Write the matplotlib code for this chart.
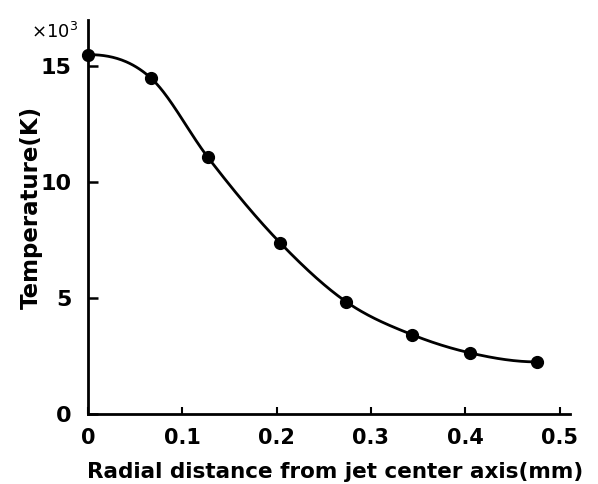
import numpy as np
import matplotlib
matplotlib.use("Agg")
import matplotlib.pyplot as plt

# Data
radius_mm = [0.0, 0.067, 0.127, 0.204, 0.274, 0.344, 0.405, 0.476]
temperature_k1e3 = [15.5, 14.48, 11.08, 7.37, 4.83, 3.41, 2.63, 2.24]
x_ticks = [0, 0.1, 0.2, 0.3, 0.4, 0.5]
x_tick_labels = ["0", "0.1", "0.2", "0.3", "0.4", "0.5"]
y_ticks = [0, 5, 10, 15]
y_tick_labels = ["0", "5", "10", "15"]


def smooth_curve(x, y, n=400):
    """Cubic Hermite through the points, three-point slopes, flat at both ends."""
    x = np.asarray(x, float)
    y = np.asarray(y, float)
    h = np.diff(x)
    delta = np.diff(y) / h
    m = len(x)
    d = np.zeros(m)
    for i in range(1, m - 1):
        d[i] = (h[i] * delta[i - 1] + h[i - 1] * delta[i]) / (h[i - 1] + h[i])
    d[0] = 0.0
    d[-1] = 0.0
    xs = np.linspace(x[0], x[-1], n)
    ys = np.empty_like(xs)
    for k, xv in enumerate(xs):
        i = min(np.searchsorted(x, xv, side="right") - 1, m - 2)
        t = (xv - x[i]) / h[i]
        h00 = 2 * t**3 - 3 * t**2 + 1
        h10 = t**3 - 2 * t**2 + t
        h01 = -2 * t**3 + 3 * t**2
        h11 = t**3 - t**2
        ys[k] = h00 * y[i] + h10 * h[i] * d[i] + h01 * y[i + 1] + h11 * h[i] * d[i + 1]
    return xs, ys


plt.rcParams['font.family'] = ['DejaVu Sans']
fig = plt.figure(figsize=(5.98, 4.84), dpi=100)
ax = fig.add_axes([0.147, 0.145, 0.806, 0.814])

xs, ys = smooth_curve(radius_mm, temperature_k1e3)
ax.plot(xs, ys, color="black", lw=2.0, zorder=2)
ax.plot(radius_mm, temperature_k1e3, "o", color="black", ms=8.5, zorder=3, clip_on=False)

ax.set_xlim(0, 0.511)
ax.set_ylim(0, 17.0)
for s in ["top", "right"]:
    ax.spines[s].set_visible(False)
for s in ["left", "bottom"]:
    ax.spines[s].set_linewidth(2.0)

ax.set_xticks(x_ticks)
ax.set_xticklabels(x_tick_labels, fontsize=15, fontweight="bold")
ax.set_yticks(y_ticks)
ax.set_yticklabels(y_tick_labels, fontsize=16, fontweight="bold")
ax.tick_params(axis="x", direction="in", length=5, width=1.5, pad=10)
ax.tick_params(axis="y", direction="in", length=7, width=1.8, pad=12)

ax.set_xlabel("Radial distance from jet center axis(mm)", fontsize=15.5,
              fontweight="bold")
ax.xaxis.set_label_coords(0.512, -0.122)
ax.set_ylabel("Temperature(K)", fontsize=16.5, fontweight="bold")
ax.yaxis.set_label_coords(-0.093, 0.525)
ax.text(-0.02, 0.954, r"$\times$10$^3$", transform=ax.transAxes, fontsize=13,
        ha="right", va="baseline")

fig.savefig("out.png", dpi=100)
